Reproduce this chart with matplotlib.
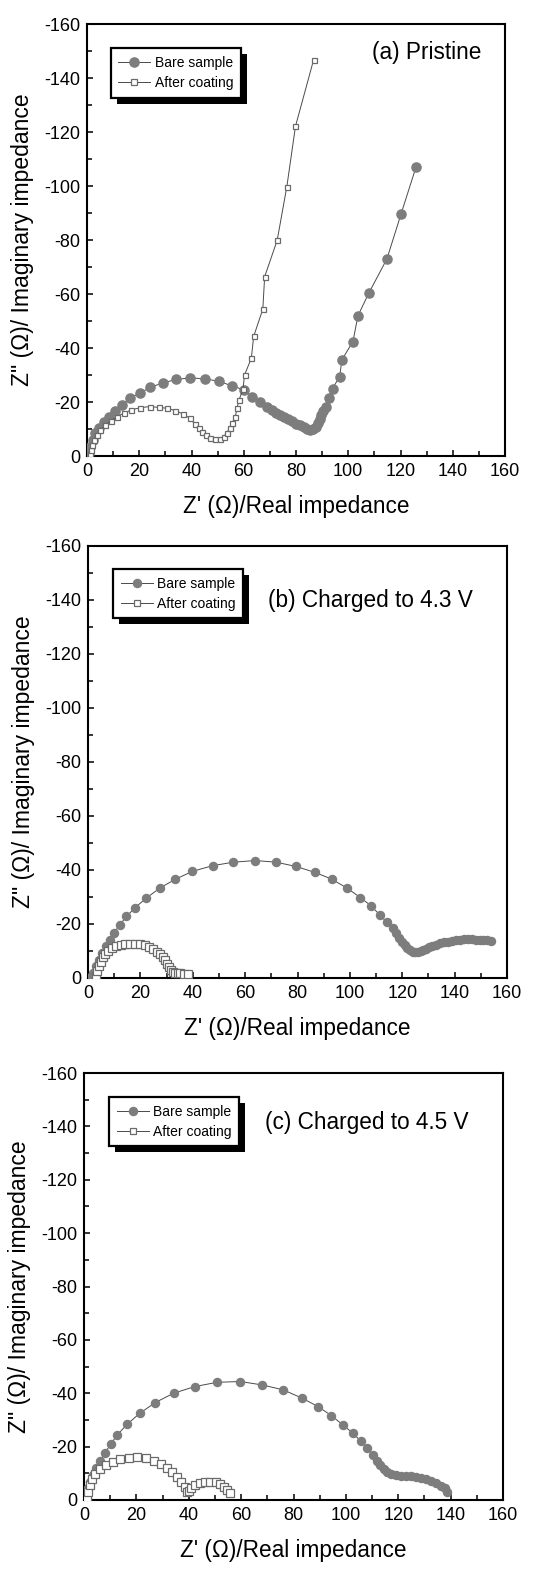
import matplotlib
matplotlib.use("Agg")
import matplotlib.pyplot as plt
from matplotlib.patches import Rectangle
from matplotlib.transforms import IdentityTransform
from matplotlib.ticker import MultipleLocator

plt.rcParams['font.family'] = ['Liberation Sans', 'DejaVu Sans']
plt.rcParams['axes.unicode_minus'] = False

# ---------------- data ----------------
# (a) Pristine
a_bare_x = [0.6, 1.3, 2.2, 3.2, 4.7, 6.4, 8.3, 10.6, 13.4, 16.3, 20.2, 24.2, 29.0, 34.2, 39.5,
            45.3, 50.6, 55.5, 60.0, 63.3, 66.3, 68.9, 70.8, 72.5, 74.0, 75.5, 77.0, 78.5, 80.0,
            81.5, 83.0, 84.3, 85.5, 86.6, 87.5, 88.3, 89.0, 89.6, 90.5, 91.6, 92.5, 94.0, 96.7,
            97.6, 101.8, 103.7, 107.8, 114.8, 120.2, 125.9]
a_bare_y = [-1.0, -3.5, -5.9, -8.4, -10.5, -12.7, -14.6, -16.7, -18.9, -21.4, -23.2, -25.5, -27.0,
            -28.4, -28.9, -28.6, -27.6, -26.0, -24.5, -22.0, -20.1, -18.3, -17.0, -16.0, -15.2,
            -14.4, -13.6, -12.8, -12.0, -11.3, -10.6, -10.0, -9.6, -10.0, -10.9, -12.1, -13.6,
            -15.2, -16.8, -18.3, -21.4, -25.0, -29.4, -35.7, -42.4, -51.9, -60.2, -73.0, -89.6,
            -106.9]
a_coat_x = [1.3, 1.5, 2.0, 2.8, 3.8, 5.1, 7.0, 9.2, 11.5, 14.0, 17.0, 20.4, 24.0, 27.4, 30.6,
            33.8, 36.7, 39.3, 41.2, 42.7, 44.0, 45.7, 47.2, 49.1, 50.8, 52.3, 53.6, 54.6, 55.5,
            56.8, 57.4, 58.2, 59.7, 60.3, 62.9, 63.8, 67.3, 68.0, 72.8, 76.5, 79.8, 86.7]
a_coat_y = [-0.7, -2.2, -4.1, -5.9, -7.8, -9.6, -11.5, -13.0, -14.6, -15.8, -17.1, -17.9, -18.3,
            -18.0, -17.7, -16.8, -15.6, -14.0, -11.9, -10.3, -9.0, -7.8, -6.8, -6.2, -6.2, -7.2,
            -8.7, -10.3, -12.1, -14.6, -17.7, -20.8, -24.7, -30.0, -36.2, -44.3, -54.4, -66.4,
            -79.9, -99.8, -122.1, -146.6]

# (b) Charged to 4.3 V
b_bare_x = [1.3, 1.9, 2.9, 4.1, 5.4, 6.8, 8.3, 9.9, 12.1, 14.7, 18.0, 22.3, 27.4, 33.4, 39.9,
            47.6, 55.5, 63.8, 71.8, 79.5, 86.7, 93.1, 98.9, 104.0, 108.0, 111.4, 114.2, 116.3,
            117.6, 118.8, 120.0, 121.0, 122.0, 123.0, 124.0, 125.0, 126.0, 127.0, 128.0, 129.0,
            130.2, 131.5, 133.0, 134.5, 136.0, 137.5, 139.0, 140.5, 142.0, 143.5, 145.0, 146.5,
            148.0, 149.5, 151.0, 152.5, 153.8]
b_bare_y = [-0.4, -1.8, -4.3, -6.8, -9.2, -11.7, -14.2, -16.6, -19.7, -22.8, -26.1, -29.6, -33.3,
            -36.6, -39.5, -41.6, -42.9, -43.5, -42.9, -41.3, -39.1, -36.6, -33.3, -29.8, -26.8,
            -23.4, -20.6, -18.4, -16.6, -15.0, -13.4, -12.1, -11.0, -10.2, -9.7, -9.5, -9.6, -9.9,
            -10.3, -10.8, -11.3, -11.8, -12.3, -12.8, -13.2, -13.5, -13.8, -14.0, -14.1, -14.3,
            -14.3, -14.3, -14.2, -14.1, -14.0, -13.9, -13.8]
b_coat_x = [3.2, 3.6, 4.1, 4.8, 5.6, 6.6, 7.8, 9.2, 10.8, 12.5, 14.3, 16.2, 18.1, 20.0, 21.8,
            23.4, 24.9, 26.2, 27.4, 28.5, 29.4, 30.2, 30.9, 31.6, 32.4, 33.3, 34.3, 35.3, 36.5,
            38.3]
b_coat_y = [-0.6, -2.5, -4.3, -6.1, -7.7, -9.0, -10.1, -11.0, -11.7, -12.2, -12.5, -12.7, -12.7,
            -12.5, -12.1, -11.5, -10.7, -9.8, -8.8, -7.7, -6.5, -5.3, -4.1, -3.1, -2.4, -2.0,
            -1.8, -1.7, -1.6, -1.5]

# (c) Charged to 4.5 V
c_bare_x = [0.9, 1.5, 2.4, 3.4, 4.7, 6.2, 7.9, 10.2, 12.7, 16.5, 21.3, 27.2, 34.2, 42.3, 50.8,
            59.7, 68.1, 76.0, 83.4, 89.4, 94.5, 98.9, 102.7, 105.7, 108.2, 110.4, 111.9, 113.2,
            114.4, 115.8, 117.4, 119.3, 121.2, 123.1, 125.0, 126.9, 128.8, 130.7, 132.6, 134.5,
            136.5, 137.7, 138.6]
c_bare_y = [-1.9, -4.4, -6.9, -9.4, -11.9, -14.8, -17.5, -20.9, -24.4, -28.4, -32.5, -36.5, -40.0,
            -42.5, -44.1, -44.4, -43.1, -41.3, -38.1, -35.0, -31.6, -28.1, -25.0, -22.0, -19.4,
            -16.9, -14.8, -13.1, -11.6, -10.4, -9.6, -9.3, -9.1, -9.1, -9.0, -8.8, -8.4, -7.9,
            -7.3, -6.3, -5.3, -4.4, -3.1]
c_coat_x = [1.3, 1.5, 2.2, 3.1, 4.3, 6.0, 8.3, 11.1, 13.9, 17.2, 20.4, 23.8, 26.7, 29.5, 31.8,
            33.7, 35.5, 37.2, 38.4, 39.5, 40.2, 41.0, 42.3, 44.2, 46.1, 48.2, 50.3, 52.1, 53.5,
            54.7, 55.6]
c_coat_y = [-0.6, -3.1, -5.6, -7.8, -9.8, -11.6, -13.1, -14.4, -15.4, -15.9, -16.0, -15.6, -14.8,
            -13.5, -12.1, -10.6, -8.8, -6.9, -5.0, -3.1, -3.3, -4.4, -5.6, -6.5, -6.9, -6.9,
            -6.6, -6.0, -5.0, -3.8, -2.8]

titles = ["(a) Pristine", "(b) Charged to 4.3 V", "(c) Charged to 4.5 V"]
series_labels = ["Bare sample", "After coating"]
x_ticks = [0, 20, 40, 60, 80, 100, 120, 140, 160]
y_ticks = [0, -20, -40, -60, -80, -100, -120, -140, -160]

panels = [
    (a_bare_x, a_bare_y, a_coat_x, a_coat_y),
    (b_bare_x, b_bare_y, b_coat_x, b_coat_y),
    (c_bare_x, c_bare_y, c_coat_x, c_coat_y),
]

# ---------------- layout ----------------
W, H = 540, 1569
fig = plt.figure(figsize=(W / 100, H / 100), dpi=100)

ax_px = [(87, 24, 505, 456), (88, 546, 507, 978), (84, 1073, 503, 1500)]
text_pos = [(0.682, 0.933), (0.430, 0.875), (0.432, 0.885)]
leg_pos = [(0.057, 0.944), (0.060, 0.947), (0.060, 0.944)]
circ_ms = [6.6, 5.8, 5.8]
sq_ms = [3.6, 5.4, 5.4]
leg_sq = [3.8, 4.8, 4.8]

gray = '#7d7d7d'
line_c = '#4a4a4a'
sq_edge = '#6a6a6a'

axes = []
legends = []
for i, (l, t, r, b) in enumerate(ax_px):
    ax = fig.add_axes([l / W, 1 - b / H, (r - l) / W, (b - t) / H])
    bx, by, cx, cy = panels[i]
    ax.plot(bx, by, '-', color=line_c, lw=0.7, marker='o', ms=circ_ms[i],
            mfc=gray, mec=gray, label=series_labels[0], zorder=3)
    ax.plot(cx, cy, '-', color=line_c, lw=0.7, marker='s', ms=sq_ms[i],
            mfc='white', mec=sq_edge, mew=0.9, label=series_labels[1], zorder=4)
    ax.set_xlim(0, 160)
    ax.set_ylim(0, -160)
    ax.set_xticks(x_ticks)
    ax.set_yticks(y_ticks)
    ax.xaxis.set_minor_locator(MultipleLocator(10))
    ax.yaxis.set_minor_locator(MultipleLocator(10))
    ax.tick_params(which='both', direction='in', top=False, right=False,
                   labelsize=13, width=1.1, pad=5)
    ax.tick_params(which='major', length=4.5)
    ax.tick_params(which='minor', length=3.5)
    for s in ax.spines.values():
        s.set_linewidth(1.5)
    ax.set_xlabel("Z' (\u03a9)/Real impedance", fontsize=16.3, labelpad=11)
    ax.set_ylabel('Z" (\u03a9)/ Imaginary impedance', fontsize=16.5, labelpad=7)
    ax.text(text_pos[i][0], text_pos[i][1], titles[i], transform=ax.transAxes,
            fontsize=16.3, ha='left', va='center')
    leg = ax.legend(loc='upper left', bbox_to_anchor=leg_pos[i], borderaxespad=0,
                    fontsize=10, frameon=True, fancybox=False, framealpha=1,
                    edgecolor='black', handlelength=2.3, handletextpad=0.3,
                    borderpad=0.55, labelspacing=0.45)
    leg.get_frame().set_linewidth(1.6)
    leg.legend_handles[1].set_markersize(leg_sq[i])
    leg.set_zorder(6)
    axes.append(ax)
    legends.append(leg)

fig.canvas.draw()
for ax, leg in zip(axes, legends):
    bb = leg.get_window_extent()
    sh = Rectangle((bb.x0 + 6, bb.y0 - 6), bb.width, bb.height,
                   transform=IdentityTransform(), facecolor='black',
                   edgecolor='none', zorder=5.5)
    ax.add_patch(sh)

fig.savefig("out.png", dpi=100)
